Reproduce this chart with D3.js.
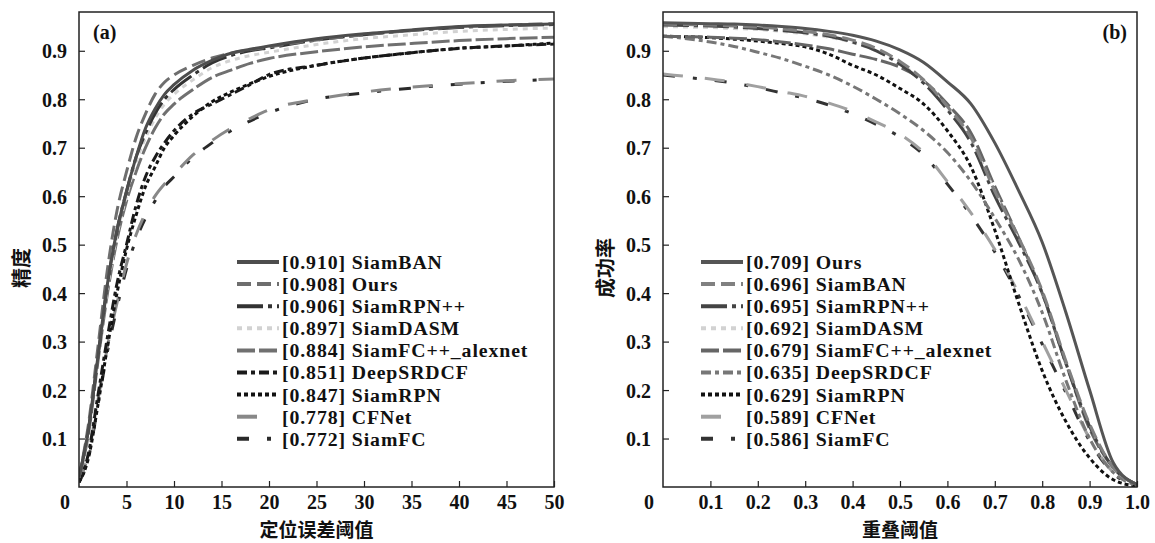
<!DOCTYPE html>
<html>
<head>
<meta charset="utf-8">
<script src="https://cdn.jsdelivr.net/npm/d3@7"></script>
<style>
  body { margin: 0; background: #fff; }
  svg { display: block; }
</style>
</head>
<body>
<svg id="chart" width="1155" height="543"></svg>
<script>
// precision plot (a): location error threshold
const precX = [0, 1, 2, 3, 4, 5, 6, 7, 8, 9, 10, 12, 14, 16, 18, 20, 25, 30, 35, 40, 45, 50];
const precSiamBAN   = [.02, .12, .27, .42, .53, .61, .68, .74, .78, .81, .83, .86, .88, .895, .903, .910, .925, .935, .943, .950, .953, .955];
const precOurs      = [.02, .13, .29, .45, .57, .65, .72, .77, .81, .835, .85, .87, .885, .895, .902, .908, .922, .933, .942, .949, .953, .956];
const precSiamRPNpp = [.02, .12, .27, .42, .53, .61, .68, .73, .77, .80, .82, .85, .875, .89, .90, .906, .922, .933, .942, .948, .952, .954];
const precSiamDASM  = [.02, .12, .27, .41, .52, .60, .67, .72, .76, .79, .81, .84, .865, .88, .89, .897, .913, .925, .933, .940, .944, .947];
const precSiamFCpp  = [.02, .11, .26, .40, .51, .59, .65, .70, .74, .77, .79, .82, .845, .86, .874, .884, .898, .908, .915, .921, .925, .928];
const precDeepSRDCF = [.01, .07, .19, .31, .42, .50, .58, .64, .68, .71, .735, .77, .79, .81, .83, .851, .87, .885, .896, .905, .91, .914];
const precSiamRPN   = [.01, .06, .17, .29, .40, .49, .56, .62, .66, .70, .725, .765, .795, .815, .832, .847, .87, .885, .896, .905, .91, .916];
const precCFNet     = [.01, .07, .18, .29, .38, .46, .52, .565, .60, .625, .645, .685, .715, .74, .76, .778, .80, .815, .825, .832, .838, .842];
const precSiamFC    = [.01, .06, .17, .28, .37, .45, .51, .555, .59, .62, .64, .68, .71, .735, .755, .772, .80, .813, .823, .831, .837, .841];
const precNames  = ['SiamBAN', 'Ours', 'SiamRPN++', 'SiamDASM', 'SiamFC++_alexnet', 'DeepSRDCF', 'SiamRPN', 'CFNet', 'SiamFC'];
const precScores = ['0.910', '0.908', '0.906', '0.897', '0.884', '0.851', '0.847', '0.778', '0.772'];
const precTicks  = [5, 10, 15, 20, 25, 30, 35, 40, 45, 50];

// success plot (b): overlap threshold
const succX = [0, .05, .1, .15, .2, .25, .3, .35, .4, .45, .5, .55, .6, .65, .7, .75, .8, .85, .9, .95, 1];
const succOurs      = [.958, .957, .956, .955, .953, .950, .946, .940, .932, .920, .902, .876, .836, .790, .71, .612, .505, .36, .20, .05, .005];
const succSiamBAN   = [.955, .954, .953, .951, .949, .945, .940, .933, .922, .905, .878, .840, .785, .72, .61, .515, .405, .26, .13, .04, .005];
const succSiamRPNpp = [.953, .952, .951, .949, .946, .942, .937, .930, .918, .900, .872, .833, .778, .71, .60, .505, .40, .255, .125, .04, .005];
const succSiamDASM  = [.950, .949, .948, .946, .944, .940, .935, .928, .917, .900, .874, .836, .782, .715, .61, .51, .40, .258, .128, .04, .005];
const succSiamFCpp  = [.930, .929, .928, .926, .923, .918, .912, .904, .893, .882, .866, .838, .79, .73, .62, .515, .40, .255, .12, .04, .005];
const succDeepSRDCF = [.930, .925, .918, .909, .897, .884, .868, .850, .827, .80, .77, .735, .69, .63, .555, .47, .36, .22, .10, .03, .003];
const succSiamRPN   = [.930, .929, .927, .924, .920, .915, .908, .893, .870, .85, .822, .79, .735, .66, .53, .38, .24, .135, .06, .015, .002];
const succCFNet     = [.852, .847, .842, .835, .826, .816, .806, .792, .775, .753, .728, .69, .63, .565, .49, .40, .30, .20, .10, .03, .003];
const succSiamFC    = [.850, .845, .840, .833, .824, .813, .802, .788, .770, .748, .722, .685, .625, .56, .485, .395, .295, .195, .095, .028, .003];
const succNames  = ['Ours', 'SiamBAN', 'SiamRPN++', 'SiamDASM', 'SiamFC++_alexnet', 'DeepSRDCF', 'SiamRPN', 'CFNet', 'SiamFC'];
const succScores = ['0.709', '0.696', '0.695', '0.692', '0.679', '0.635', '0.629', '0.589', '0.586'];
const succTicks  = [0.1, 0.2, 0.3, 0.4, 0.5, 0.6, 0.7, 0.8, 0.9, 1.0];

const yTicks = [0.1, 0.2, 0.3, 0.4, 0.5, 0.6, 0.7, 0.8, 0.9];

// line styles, in legend order
const dashes = [null, '14,6', '26,5,4,5', '5,5', '18,4', '10,4,4,4', '4,3', '20,22', '12,18,4,18'];
const precColors = ['#4d4d4d', '#6e6e6e', '#333', '#d2d2d2', '#707070', '#1a1a1a', '#111', '#888', '#2a2a2a'];
const succColors = ['#555', '#808080', '#444', '#d2d2d2', '#666', '#777', '#111', '#a0a0a0', '#333'];

const serif = '"Liberation Serif", "Times New Roman", Tinos, Times, "DejaVu Serif", serif';
const cjk = '"Noto Sans CJK SC", sans-serif';

const svg = d3.select('#chart');

function drawPanel(opts) {
    const x = d3.scaleLinear().domain(opts.xDomain).range([opts.left, opts.right]);
    const y = d3.scaleLinear().domain([0, 0.98]).range([487, 12]);
    const g = svg.append('g');

    g.append('clipPath').attr('id', 'clip-' + opts.id)
        .append('rect')
        .attr('x', opts.left).attr('y', 12)
        .attr('width', opts.right - opts.left).attr('height', 475);

    const line = d3.line()
        .x(d => x(d[0]))
        .y(d => y(d[1]))
        .curve(d3.curveMonotoneX);

    // draw bottom-of-legend series first so the top ones sit above
    const order = d3.range(opts.series.length).reverse();
    g.append('g').attr('clip-path', `url(#clip-${opts.id})`)
        .selectAll('path')
        .data(order)
        .join('path')
        .attr('d', i => line(opts.xs.map((v, k) => [v, opts.series[i][k]])))
        .attr('fill', 'none')
        .attr('stroke', i => opts.colors[i])
        .attr('stroke-width', 3)
        .attr('stroke-dasharray', i => dashes[i]);

    // frame
    g.append('rect')
        .attr('x', opts.left).attr('y', 12)
        .attr('width', opts.right - opts.left).attr('height', 487 - 12)
        .attr('fill', 'none').attr('stroke', '#222').attr('stroke-width', 1.5);

    // inward ticks
    const xAxis = d3.axisBottom(x).tickValues(opts.xTicks).tickSizeInner(-6).tickSizeOuter(0)
        .tickFormat(opts.xFormat);
    const gx = g.append('g').attr('transform', 'translate(0,487)').call(xAxis)
        .attr('font-family', serif).attr('font-size', 20).attr('font-weight', 'bold');
    gx.select('.domain').remove();
    gx.selectAll('line').attr('stroke', '#222').attr('stroke-width', 1.2);
    gx.selectAll('text').attr('y', 0).attr('dy', 22).attr('fill', '#111');

    const yAxis = d3.axisLeft(y).tickValues(yTicks).tickSizeInner(-6).tickSizeOuter(0)
        .tickFormat(d3.format('.1f'));
    const gy = g.append('g').attr('transform', `translate(${opts.left},0)`).call(yAxis)
        .attr('font-family', serif).attr('font-size', 20).attr('font-weight', 'bold');
    gy.select('.domain').remove();
    gy.selectAll('line').attr('stroke', '#222').attr('stroke-width', 1.2);
    gy.selectAll('text').attr('x', -12).attr('dy', '0.35em').attr('fill', '#111');

    // the shared zero at the corner
    g.append('text').attr('font-family', serif).attr('font-weight', 'bold').attr('font-size', 20)
        .attr('x', opts.left - 14).attr('y', 509).attr('text-anchor', 'middle').attr('fill', '#111').text('0');

    // axis titles
    g.append('text').attr('font-family', cjk).attr('font-weight', 'bold').attr('font-size', 19)
        .attr('x', (opts.left + opts.right) / 2).attr('y', 537).attr('text-anchor', 'middle')
        .attr('fill', '#111').text(opts.xTitle);
    g.append('text').attr('font-family', cjk).attr('font-weight', 'bold').attr('font-size', 20)
        .attr('transform', `translate(${opts.left - 50},268) rotate(-90)`)
        .attr('text-anchor', 'middle').attr('fill', '#111')
        .text(opts.yTitle);

    // panel tag
    g.append('text').attr('font-family', serif).attr('font-weight', 'bold').attr('font-size', 20)
        .attr('x', opts.tagX).attr('y', 39).attr('text-anchor', opts.tagAnchor).attr('fill', '#111').text(opts.tag);

    // legend
    const leg = g.append('g').selectAll('g')
        .data(d3.range(opts.names.length))
        .join('g')
        .attr('transform', i => `translate(${opts.legX},${262 + i * 22.1})`);
    leg.append('line')
        .attr('x1', 0).attr('x2', 42).attr('y1', 0).attr('y2', 0)
        .attr('stroke', i => opts.colors[i])
        .attr('stroke-width', 4)
        .attr('stroke-dasharray', i => dashes[i]);
    leg.append('text').attr('font-family', serif).attr('font-weight', 'bold').attr('font-size', 19.8)
        .attr('letter-spacing', 0.9)
        .attr('x', 45).attr('dy', '0.35em').attr('fill', '#111')
        .text(i => `[${opts.scores[i]}] ${opts.names[i]}`);
}

drawPanel({
    id: 'a', left: 79, right: 554, xDomain: [0, 50], xs: precX, xTicks: precTicks,
    xFormat: d3.format('d'),
    series: [precSiamBAN, precOurs, precSiamRPNpp, precSiamDASM, precSiamFCpp, precDeepSRDCF, precSiamRPN, precCFNet, precSiamFC],
    names: precNames, scores: precScores, colors: precColors,
    xTitle: '定位误差阈值', yTitle: '精度', tag: '(a)', tagX: 93, tagAnchor: 'start', legX: 237
});

drawPanel({
    id: 'b', left: 663, right: 1137, xDomain: [0, 1], xs: succX, xTicks: succTicks,
    xFormat: d3.format('.1f'),
    series: [succOurs, succSiamBAN, succSiamRPNpp, succSiamDASM, succSiamFCpp, succDeepSRDCF, succSiamRPN, succCFNet, succSiamFC],
    names: succNames, scores: succScores, colors: succColors,
    xTitle: '重叠阈值', yTitle: '成功率', tag: '(b)', tagX: 1127, tagAnchor: 'end', legX: 701
});
</script>
</body>
</html>
